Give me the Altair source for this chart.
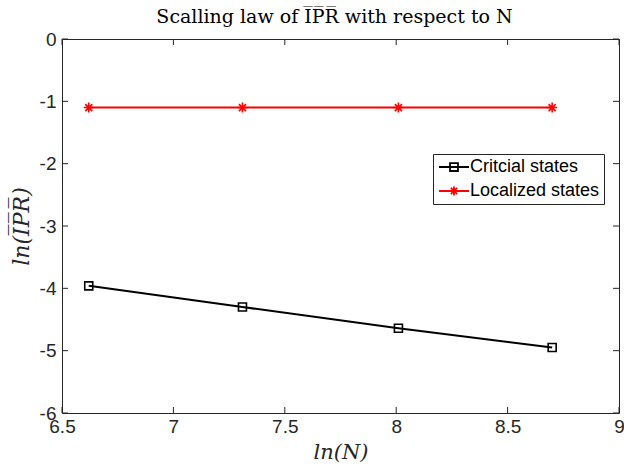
import altair as alt
import pandas as pd

# ---- data ----
ln_N = [6.62, 7.31, 8.01, 8.70]
critical = [-3.96, -4.30, -4.64, -4.95]
localized = [-1.10, -1.10, -1.10, -1.10]
series_names = ["Critcial states", "Localized states"]
series_colors = ["#000000", "#ff0000"]
x_ticks = [6.5, 7, 7.5, 8, 8.5, 9]
y_ticks = [-6, -5, -4, -3, -2, -1, 0]

rows = []
for xv, c, l in zip(ln_N, critical, localized):
    rows.append({"x": xv, "y": c, "series": series_names[0]})
    rows.append({"x": xv, "y": l, "series": series_names[1]})
df = pd.DataFrame(rows)

W, H = 557, 374
TICK = 6
FRAME = "#262626"

xscale = alt.Scale(domain=[6.5, 9], nice=False, zero=False)
yscale = alt.Scale(domain=[-6, 0], nice=False, zero=False)
cscale = alt.Scale(domain=series_names, range=series_colors)

OL = "\u0305"
ipr = "I" + OL + "P" + OL + "R" + OL

xaxis = alt.Axis(values=x_ticks, labelExpr="'' + datum.value", ticks=False, domain=False,
                 grid=False, labelFlush=False, labelFont="Liberation Sans", labelFontSize=19,
                 labelColor="#262626", labelPadding=4, title="ln(N)", titleFont="DejaVu Serif",
                 titleFontStyle="italic", titleFontWeight="normal", titleFontSize=21,
                 titleColor="#262626", titlePadding=5)
yaxis = alt.Axis(values=y_ticks, labelExpr="'' + datum.value", ticks=False, domain=False,
                 grid=False, labelFlush=False, labelFont="Liberation Sans", labelFontSize=19,
                 labelColor="#262626", labelPadding=6, title="ln(" + ipr + ")",
                 titleFont="DejaVu Serif", titleFontStyle="italic", titleFontWeight="normal",
                 titleFontSize=22, titleColor="#262626", titlePadding=6)

base = alt.Chart(df)

lines = base.mark_line(strokeWidth=2).encode(
    x=alt.X("x:Q", scale=xscale, axis=xaxis),
    y=alt.Y("y:Q", scale=yscale, axis=yaxis),
    color=alt.Color("series:N", scale=cscale),
    detail="series:N",
)

star = "M0,-1V1M-1,0H1M-0.7,-0.7L0.7,0.7M-0.7,0.7L0.7,-0.7"
sq = "M-1,-1H1V1H-1Z"
pts_crit = base.transform_filter(alt.datum.series == series_names[0]).mark_point(
    filled=False, strokeWidth=1.6, opacity=1, shape=sq, size=64).encode(
    x="x:Q", y="y:Q", color=alt.Color("series:N", scale=cscale))
pts_loc = base.transform_filter(alt.datum.series == series_names[1]).mark_point(
    filled=False, strokeWidth=1.6, opacity=1, shape=star, size=100).encode(
    x="x:Q", y="y:Q", color=alt.Color("series:N", scale=cscale))

leg_sq = "M-2,0H2M-0.53,-0.53H0.53V0.53H-0.53Z"
leg_star = "M-2,0H2M0,-0.6V0.6M-0.6,0H0.6M-0.42,-0.42L0.42,0.42M-0.42,0.42L0.42,-0.42"
legend_cfg = alt.Legend(
    title=None, orient="none", legendX=371, legendY=115,
    labelFont="Liberation Sans", labelFontSize=18, labelColor="#000000",
    symbolSize=225, symbolOpacity=1, symbolStrokeWidth=1.8, symbolFillColor="transparent",
    symbolOffset=8, labelOffset=7, rowPadding=6,
    strokeColor=FRAME, fillColor="white", padding=4,
)
legend_layer = base.mark_point(filled=False, opacity=0, strokeWidth=1.8).encode(
    x="x:Q",
    y="y:Q",
    color=alt.Color("series:N", scale=cscale, legend=legend_cfg),
    shape=alt.Shape("series:N", scale=alt.Scale(domain=series_names, range=[leg_sq, leg_star]),
                    legend=legend_cfg),
)

tick_df = pd.DataFrame({"t": x_ticks})
ytick_df = pd.DataFrame({"t": y_ticks})
bottom_ticks = alt.Chart(tick_df).mark_rule(color=FRAME, strokeWidth=1).encode(
    x=alt.X("t:Q", scale=xscale), y=alt.value(H), y2=alt.value(H - TICK))
top_ticks = alt.Chart(tick_df).mark_rule(color=FRAME, strokeWidth=1).encode(
    x=alt.X("t:Q", scale=xscale), y=alt.value(0), y2=alt.value(TICK))
left_ticks = alt.Chart(ytick_df).mark_rule(color=FRAME, strokeWidth=1).encode(
    y=alt.Y("t:Q", scale=yscale), x=alt.value(0), x2=alt.value(TICK))
right_ticks = alt.Chart(ytick_df).mark_rule(color=FRAME, strokeWidth=1).encode(
    y=alt.Y("t:Q", scale=yscale), x=alt.value(W), x2=alt.value(W - TICK))

chart = alt.layer(
    bottom_ticks, top_ticks, left_ticks, right_ticks, lines, pts_crit, pts_loc, legend_layer
).properties(
    width=W, height=H,
    title=alt.TitleParams("Scalling law of " + ipr + " with respect to N", font="DejaVu Serif",
                          fontSize=19, fontWeight="normal", color="#000000", offset=3, dx=-6),
    padding={"left": 62, "top": 39, "right": 5, "bottom": 54},
    autosize="none",
    background="white",
).configure_view(stroke=FRAME, strokeWidth=1)

chart.save("out.html", embed_options={"renderer": "svg", "actions": False})
